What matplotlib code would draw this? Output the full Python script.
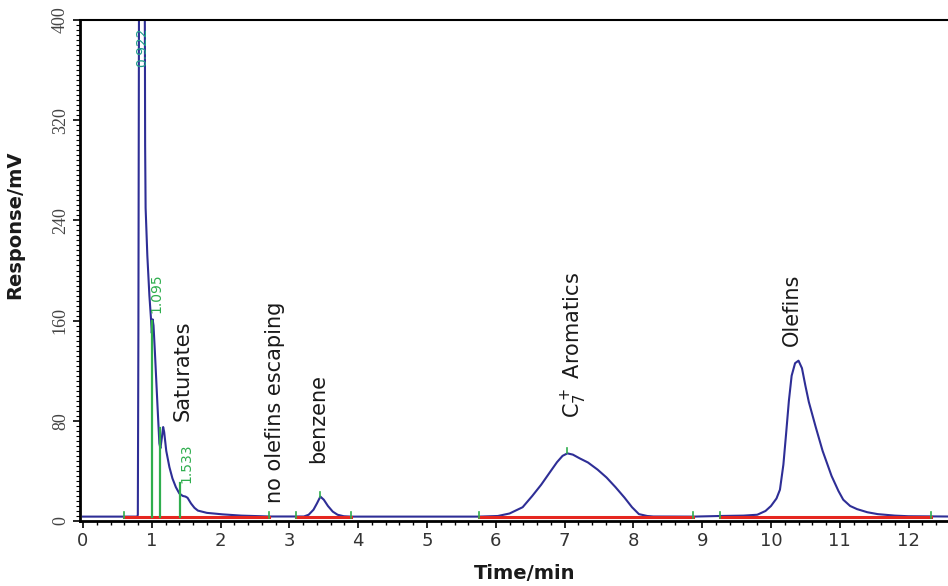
import matplotlib
matplotlib.use("Agg")
import matplotlib.pyplot as plt
from matplotlib.ticker import MultipleLocator

# chromatogram signal (min, mV)
t = [0.00, 0.60, 0.79, 0.797, 0.805, 0.815, 0.855, 0.895, 0.900, 0.903, 0.910, 0.935,
     0.965, 0.990, 1.000, 1.012, 1.025, 1.045, 1.08, 1.11, 1.125, 1.145, 1.165, 1.18,
     1.21, 1.256, 1.30, 1.35, 1.40, 1.45, 1.49, 1.52, 1.57, 1.62, 1.67, 1.80, 2.03,
     2.30, 2.71, 3.21, 3.28, 3.35, 3.40, 3.45, 3.50, 3.56, 3.63, 3.70, 3.79, 3.89,
     5.75, 6.03, 6.20, 6.39, 6.53, 6.66, 6.80, 6.89, 6.97, 7.04, 7.12, 7.22, 7.34,
     7.48, 7.61, 7.74, 7.87, 7.98, 8.08, 8.20, 8.29, 8.86, 9.26, 9.60, 9.80, 9.92,
     10.00, 10.08, 10.13, 10.18, 10.22, 10.26, 10.30, 10.35, 10.40, 10.45, 10.50,
     10.55, 10.65, 10.75, 10.88, 10.98, 11.05, 11.15, 11.25, 11.40, 11.55, 11.80,
     12.00, 12.80]
mv = [3.5, 3.5, 3.5, 5, 150, 450, 1100, 450, 380, 300, 250, 212,
      180, 160, 150, 161, 156, 135, 95, 62, 58, 66, 75, 71,
      56, 43, 34, 27, 22, 20, 19.5, 18.5, 14, 10.5, 8.3, 6.5, 5.3,
      4.3, 3.6, 3.6, 5, 9, 14, 19.5, 17, 12, 7.5, 5, 3.8, 3.5,
      3.5, 4, 6, 11, 20, 29, 40, 47, 52, 54, 53, 50, 46.7,
      41, 34.7, 27, 18.7, 11, 5.5, 4, 3.6, 3.5, 4, 4.3, 5, 8,
      12, 18, 25, 45, 70, 96, 116, 126, 128, 122, 108,
      95, 75, 56, 36, 24, 17, 12, 9.5, 7, 5.5, 4.3,
      3.8, 3.5]

# integration baselines
base_start = [0.60, 3.09, 5.75, 9.26]
base_end = [2.71, 3.89, 8.86, 12.32]
base_level = 3.4

# peak markers
mark_x = [1.005, 1.12, 1.415]
mark_top = [160, 74, 30]
apex_x = [3.45, 7.04]
apex_y = [19.5, 54]

# retention time labels
rt_text = ["0.922", "1.095", "1.533"]
rt_x = [0.865, 1.07, 1.50]
rt_y = [394, 166, 30]

# compound labels
comp_text = ["Saturates", "no olefins escaping", "benzene",
             r"C$_7^+$ Aromatics", "Olefins"]
comp_x = [1.45, 2.79, 3.42, 7.14, 10.31]
comp_y = [80, 14, 46, 82, 140]

blue = "#2e2e96"
red = "#e5261f"
green = "#2fae4e"

fig = plt.figure(figsize=(9.48, 5.86), dpi=100)
ax = fig.add_axes([80/948, 65/586, 868/948, 501/586])

ax.plot(t, mv, color=blue, lw=1.5, zorder=2)
for s, e in zip(base_start, base_end):
    ax.plot([s, e], [base_level, base_level], color=red, lw=2.2, zorder=3)

for x, top in zip(mark_x, mark_top):
    ax.plot([x, x], [base_level, top], color=green, lw=1.6, zorder=4)

ticks_x = base_start + base_end
for x in ticks_x:
    ax.plot([x, x], [base_level - 1, base_level + 4], color=green, lw=1.2, zorder=4)
for x, y in zip(apex_x, apex_y):
    ax.plot([x, x], [y, y + 4], color=green, lw=1.2, zorder=4)

ax.text(rt_x[0], rt_y[0], rt_text[0], rotation=90, ha="center", va="top",
        fontsize=10, color="#1f9e89", zorder=5)
for i in (1, 2):
    ax.text(rt_x[i], rt_y[i], rt_text[i], rotation=90, ha="center", va="bottom",
            fontsize=10, color=green, zorder=5)

for s, x, y in zip(comp_text, comp_x, comp_y):
    ax.text(x, y, s, rotation=90, ha="center", va="bottom", fontsize=15, color="#1a1a1a")

# 0 sits 3 px right of the spine, ~68.8 px per minute
ax.set_xlim(-3 / 68.8, 865 / 68.8)
ax.set_ylim(0, 400)
ax.xaxis.set_major_locator(MultipleLocator(1))
ax.xaxis.set_minor_locator(MultipleLocator(0.2))
ax.yaxis.set_major_locator(MultipleLocator(80))
ax.yaxis.set_minor_locator(MultipleLocator(4))

ax.spines["right"].set_visible(False)
for side in ("left", "bottom"):
    ax.spines[side].set_linewidth(2)
ax.spines["top"].set_linewidth(1.5)

ax.tick_params(axis="x", which="major", length=5, width=1.2, labelsize=13, pad=3,
               labelcolor="#333333")
ax.tick_params(axis="x", which="minor", length=3, width=1)
ax.tick_params(axis="y", which="major", length=5, width=1.2, labelsize=13, pad=3,
               labelcolor="#444444")
ax.tick_params(axis="y", which="minor", length=3, width=0.8)
plt.setp(ax.get_yticklabels(), rotation=90, va="center", family="Liberation Serif")

ax.set_xlabel("Time/min", fontsize=14, fontweight="bold", color="#1a1a1a")
ax.xaxis.set_label_coords((525 - 80) / 868, -0.085)
ax.set_ylabel("Response/mV", fontsize=14, fontweight="bold", color="#1a1a1a")
ax.yaxis.set_label_coords(-0.064, (521 - 225) / 501)

fig.savefig("out.png", dpi=100)
